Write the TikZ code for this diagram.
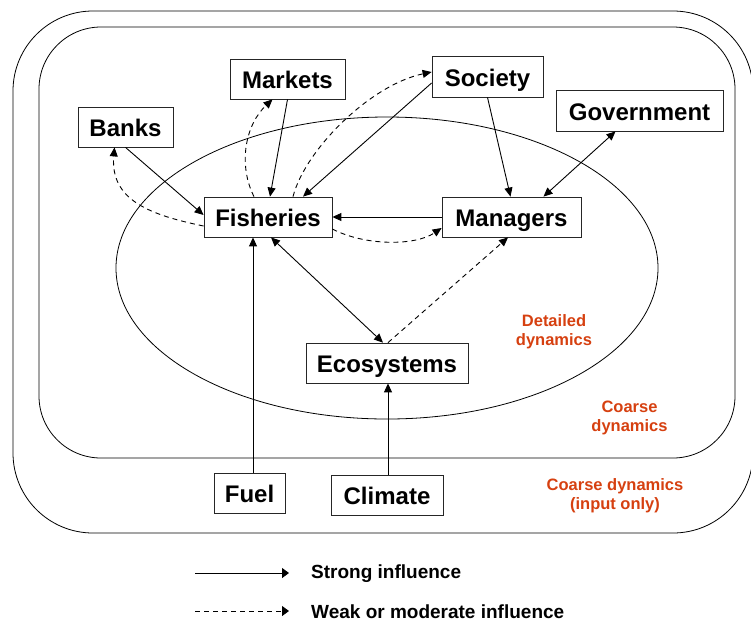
\documentclass[tikz,border=0pt]{standalone}
\usepackage{fontspec}
\setmainfont{Liberation Sans}
\usetikzlibrary{arrows.meta}
\definecolor{orng}{RGB}{214,64,16}
\begin{document}
\begin{tikzpicture}[x=1pt,y=-1pt,
  box/.style={draw=black!85, line width=0.8pt, fill=white, minimum height=40pt, inner sep=0pt,
    font=\fontsize{24}{28}\selectfont\bfseries, text height=22pt, text depth=2.8pt},
  frame/.style={draw=black, line width=0.8pt},
  conn/.style={draw=black, line width=0.9pt, -{Triangle[length=9pt,width=8pt]}},
  biconn/.style={draw=black, line width=0.9pt, {Triangle[length=9pt,width=8pt]}-{Triangle[length=9pt,width=8pt]}},
  weak/.style={conn, dash pattern=on 5pt off 4pt},
  orangetxt/.style={text=orng, font=\fontsize{16.5}{19}\selectfont\bfseries, align=center, inner sep=0pt},
  legtxt/.style={font=\fontsize{19}{22}\selectfont\bfseries, inner sep=0pt},
  legarrow/.style={draw=black, line width=0.9pt, -{Triangle[length=7pt,width=10pt]}}
]
\useasboundingbox (0,0) rectangle (751,622);
% frames
\draw[frame, rounded corners=80pt] (13,11) rectangle (753,533);
\draw[frame, rounded corners=62pt] (39,27) rectangle (735,458);
\draw[frame] (387,268) ellipse [x radius=271pt, y radius=151pt];

% region labels
\node[orangetxt] (det) at (554,331.5) {Detailed\\dynamics};
\node[orangetxt] (coarse) at (629.5,418) {Coarse\\dynamics};
\node[orangetxt] (input) at (615,496) {Coarse dynamics\\(input only)};

% nodes
\node[box, minimum width=95pt] (banks) at (125.5,127) {Banks};
\node[box, minimum width=115pt] (markets) at (287.5,79) {Markets};
\node[box, minimum width=111pt, minimum height=41pt] (society) at (487.5,76.5) {Society};
\node[box, minimum width=167pt, minimum height=41pt] (gov) at (639.5,110.5) {Government};
\node[box, minimum width=128pt] (fish) at (268,217) {Fisheries};
\node[box, minimum width=139pt] (mgr) at (511.5,217) {Managers};
\node[box, minimum width=162pt] (eco) at (387,363) {Ecosystems};
\node[box, minimum width=71pt] (fuel) at (249.5,493) {Fuel};
\node[box, minimum width=112pt] (climate) at (387,495) {Climate};

% strong connectors
\draw[conn] (banks.south) -- ([yshift=2pt]fish.west);
\draw[conn] (markets.south) -- ([xshift=2pt]fish.north);
\draw[conn] ([yshift=-6.5pt]society.west) -- ([xshift=35pt]fish.north);
\draw[conn] (society.south) -- ([xshift=-1pt]mgr.north);
\draw[biconn] ([xshift=-24pt]gov.south) -- ([xshift=32pt]mgr.north);
\draw[conn] (mgr.west) -- (fish.east);
\draw[biconn] ([xshift=3pt]fish.south) -- ([xshift=-4pt]eco.north);
\draw[conn] ([xshift=3.5pt]fuel.north) -- ([xshift=-15pt]fish.south);
\draw[conn] ([xshift=1pt]climate.north) -- ([xshift=1pt]eco.south);

% weak connectors
\draw[weak] ([yshift=-9pt]fish.west) .. controls (150,215) and (110,200) .. ([xshift=-11pt]banks.south);
\draw[weak] ([xshift=-14pt]fish.north) .. controls (238,165) and (245,125) .. ([xshift=-15pt]markets.south);
\draw[weak] ([xshift=25pt]fish.north) .. controls (305,150) and (370,85) .. ([yshift=4.5pt]society.west);
\draw[weak] ([yshift=-12pt]fish.east) .. controls (365,246) and (415,246) .. ([yshift=-11pt]mgr.west);
\draw[weak] ([xshift=1pt]eco.north) -- ([xshift=-3.5pt]mgr.south);

% legend
\coordinate (s1) at (195,573);
\coordinate (s2) at (289,573);
\coordinate (w1) at (195,611);
\coordinate (w2) at (289,611);
\draw[legarrow] (s1) -- (s2);
\draw[legarrow, dash pattern=on 5pt off 4pt] (w1) -- (w2);
\node[legtxt, anchor=base west] (strong) at (311,578) {Strong influence};
\node[legtxt, anchor=base west] (weakl) at (311,618) {Weak or moderate influence};
\end{tikzpicture}
\end{document}
